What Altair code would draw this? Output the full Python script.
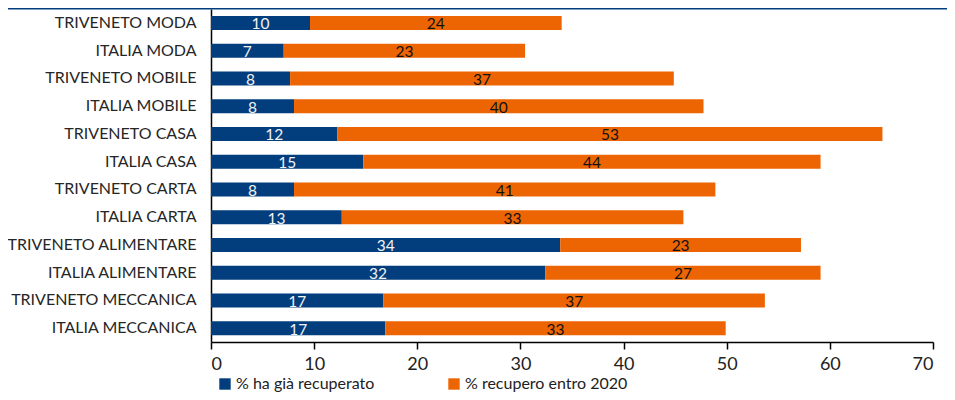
import altair as alt
import pandas as pd

categories = ["TRIVENETO MODA", "ITALIA MODA", "TRIVENETO MOBILE", "ITALIA MOBILE",
              "TRIVENETO CASA", "ITALIA CASA", "TRIVENETO CARTA", "ITALIA CARTA",
              "TRIVENETO ALIMENTARE", "ITALIA ALIMENTARE", "TRIVENETO MECCANICA",
              "ITALIA MECCANICA"]
recuperato = [9.6, 7.05, 7.67, 8.05, 12.26, 14.76, 8.05, 12.68, 33.86, 32.4, 16.72, 16.9]
entro2020 = [24.4, 23.4, 37.2, 39.7, 52.84, 44.34, 40.85, 33.12, 23.34, 26.7, 36.98, 33.0]
series = ["% ha già recuperato", "% recupero entro 2020"]
colors = ["#023E7D", "#ED6503"]

rows = []
for c, a, b in zip(categories, recuperato, entro2020):
    rows.append({"category": c, "series": series[0], "value": a, "order": 0})
    rows.append({"category": c, "series": series[1], "value": b, "order": 1})
df = pd.DataFrame(rows)

FONT = "Lato"

base = alt.Chart(df).transform_stack(
    stack="value", groupby=["category"], sort=[alt.SortField("order")], as_=["x0", "x1"]
).transform_calculate(mid="(datum.x0 + datum.x1) / 2")

yenc = alt.Y("category:N", sort=categories, title=None,
             axis=alt.Axis(labelFont=FONT, labelFontSize=16, labelColor="#262626",
                           labelPadding=15, ticks=False, domainColor="black",
                           domainWidth=1.5, labelLimit=400))

bars = base.mark_bar(size=14).encode(
    y=yenc,
    x=alt.X("x0:Q", scale=alt.Scale(domain=[0, 70]), title=None,
            axis=alt.Axis(values=[0, 10, 20, 30, 40, 50, 60, 70], grid=False,
                          labelFont=FONT, labelFontSize=18, labelColor="#222222",
                          tickColor="black", domainColor="black", tickSize=7,
                          domainWidth=1.5, tickWidth=1.5, labelPadding=6)),
    x2="x1:Q",
    color=alt.Color("series:N", scale=alt.Scale(domain=series, range=colors),
                    legend=alt.Legend(title=None, orient="none", legendX=6, legendY=367,
                                      direction="horizontal", symbolType="square",
                                      symbolSize=130, symbolStrokeWidth=0,
                                      labelFont=FONT, labelFontSize=16,
                                      labelColor="#222222", columnPadding=71,
                                      labelOffset=3, labelLimit=400, padding=0)),
)

text = base.mark_text(font=FONT, fontSize=15.5, baseline="alphabetic", dy=6.5).encode(
    y=alt.Y("category:N", sort=categories),
    x=alt.X("mid:Q"),
    text=alt.Text("value:Q", format=".0f"),
    color=alt.condition("datum.order == 0", alt.value("#F2F2F2"), alt.value("#111111")),
)

topline = alt.Chart(pd.DataFrame({"v": [0]})).mark_rule(
    color="#023E7D", strokeWidth=2, clip=False
).encode(x=alt.value(-203), x2=alt.value(736), y=alt.value(-0.5))

chart = alt.layer(bars, text, topline).properties(
    width=722, height=333,
    padding={"left": 203, "top": 1, "right": 14, "bottom": 50},
    autosize=alt.AutoSizeParams(type="none"),
).configure_view(stroke=None)

chart.save("out.html", embed_options={"renderer": "svg", "actions": False})
